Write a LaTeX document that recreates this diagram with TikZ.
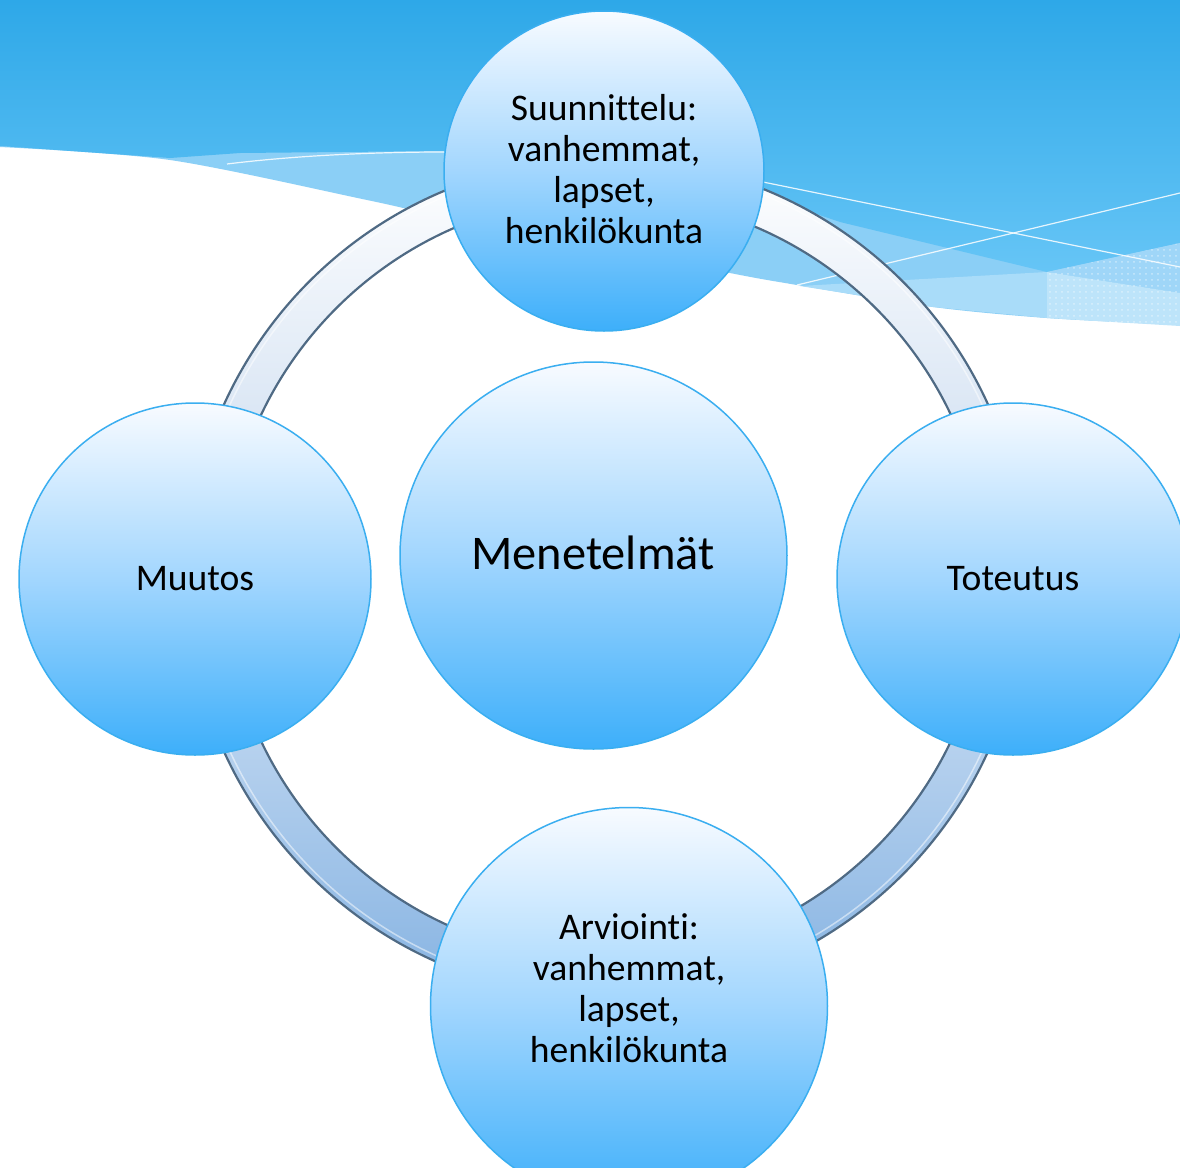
\documentclass[tikz,border=0pt]{standalone}
\usepackage{fontspec}
\setmainfont{Carlito}[Ligatures=NoCommon]
\usetikzlibrary{patterns}
\definecolor{bandtop}{HTML}{2EA8E8}
\definecolor{bandbot}{HTML}{66C5F6}
\definecolor{bandlight}{HTML}{8BCFF6}
\definecolor{bandlighter}{HTML}{A9DCF9}
\definecolor{dotdark}{HTML}{9FD6F8}
\definecolor{dotlight}{HTML}{BDE4FA}
\definecolor{ringedge}{HTML}{4F6A84}
\definecolor{ringmidA}{HTML}{C4D7EE}
\definecolor{ringtopB}{HTML}{D6E5F6}
\definecolor{ringbotB}{HTML}{86B3E2}
\definecolor{cirtop}{HTML}{F8FBFF}
\definecolor{cirmid}{HTML}{A2D6FE}
\definecolor{cirbot}{HTML}{3DAFFA}
\definecolor{ciredge}{HTML}{3AAEF0}
\tikzset{
  bubble/.style={circle, draw=ciredge, line width=0.75pt, top color=cirtop, bottom color=cirbot, middle color=cirmid, inner sep=0pt, outer sep=0pt},
  lbl/.style={align=center, text=black, font=\fontsize{18.8}{20.5}\selectfont, inner sep=0pt},
  wline/.style={draw=white, line width=0.6pt, opacity=0.85},
  ringline/.style={draw=ringedge, line width=1.1pt},
}
\begin{document}
\begin{tikzpicture}[x=0.5pt,y=-0.5pt]
\useasboundingbox (0,0) rectangle (1180,1168);
\clip (0,0) rectangle (1180,1168);
\fill[white] (0,0) rectangle (1180,1168);
% background wave
\fill[bandlight] (0,0) -- (1180,0) -- plot[smooth] coordinates {(1180,325) (1047,318) (933,307) (797,285) (730,273) (590,244) (440,216) (367,200) (170,160) (0,147)} -- cycle;
\shade[top color=bandtop, bottom color=bandbot] (0,0) -- (1180,0) -- (1180,243) -- (1047,272) -- (840,222) -- (764,196) -- (604,160) -- (444,151) -- (240,153) -- (170,158) -- (0,146) -- cycle;
\fill[bandlighter] (800,286) -- (1047,272) -- (1047,318) -- (933,307) -- cycle;
\fill[dotdark] (1047,272) -- (1180,243) -- (1180,293) -- cycle;
\fill[dotlight] (1047,272) -- (1180,293) -- (1180,326) -- (1047,318) -- cycle;
\fill[pattern=dots, pattern color=white, opacity=0.45] (1047,272) -- (1180,243) -- (1180,326) -- (1047,318) -- cycle;
\draw[wline] (763,182) -- (1180,267);
\draw[wline] (797,285) -- (1180,193);
\draw[wline] (227,164) .. controls (300,155) and (380,152) .. (444,152);
% ring
\begin{scope}
  \clip (0,0) rectangle (1180,578);
  \shade[even odd rule, top color=white, bottom color=ringbotB, middle color=ringmidA] (606,578) circle[radius=420] (606,578) circle[radius=381];
\end{scope}
\begin{scope}
  \clip (0,578) rectangle (1180,1168);
  \shade[even odd rule, top color=white, bottom color=ringbotB, middle color=ringtopB] (606,578) circle[radius=420] (606,578) circle[radius=381];
\end{scope}
\draw[white, opacity=0.5, line width=0.75pt] (606,578) circle[radius=414];
\draw[ringline] (606,578) circle[radius=419.5];
\draw[ringline] (606,578) circle[radius=381.5];
% circles
\node[bubble, minimum size=160pt] (plan) at (604,171) {};
\node[bubble, minimum size=176pt] (change) at (195,579) {};
\node[bubble, minimum size=176pt] (impl) at (1013,579) {};
\node[bubble, minimum size=198.5pt] (eval) at (629,1006) {};
\node[bubble, minimum size=193.5pt] (methods) at (593.5,555.5) {};
% texts
\node[lbl] (plant) at (604,169) {Suunnittelu:\\vanhemmat,\\lapset,\\henkilökunta};
\node[lbl] (changet) at (195,579) {Muutos};
\node[lbl] (implt) at (1013,579) {Toteutus};
\node[lbl] (evalt) at (629,988) {Arviointi:\\vanhemmat,\\lapset,\\henkilökunta};
\node[lbl, font=\fontsize{24.2}{29}\selectfont] (methodst) at (593,553) {Menetelmät};
\end{tikzpicture}
\end{document}
